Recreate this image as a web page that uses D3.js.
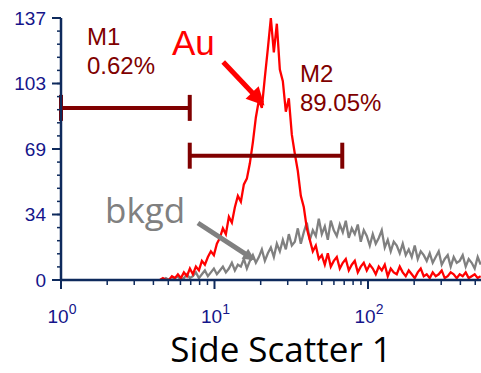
<!DOCTYPE html>
<html>
<head>
<meta charset="utf-8">
<script src="https://cdn.jsdelivr.net/npm/d3@7"></script>
<style>
  body { margin: 0; background: #fff; }
  svg { display: block; }
</style>
</head>
<body>
<div class="chart"></div>
<script>
// histogram channels: 256 channels per decade, every 5th channel from 165
const firstChannel = 165;
const channelStep = 5;

const auCounts = [
  0, 1, 0, 0, 2, 1, 3, 1, 4, 2, 6,
  3, 7, 5, 10, 8, 12, 15, 13, 19, 22,
  27, 24, 33, 30, 38, 44, 41, 50, 53, 61,
  72, 85, 94, 90, 106, 121, 137, 119, 134, 110,
  104, 88, 95, 76, 66, 57, 44, 38, 27, 21,
  15, 18, 11, 13, 8, 14, 7, 10, 12, 6,
  9, 11, 5, 8, 10, 4, 7, 9, 5, 8,
  6, 3, 7, 5, 8, 2, 6, 4, 3, 7,
  4, 2, 5, 3, 1, 4, 6, 2, 3, 1,
  4, 2, 3, 5, 1, 2, 4, 3, 1, 3,
  2, 4, 1, 2, 3, 1, 2
];

const bkgdCounts = [
  0, 0, 1, 0, 0, 1, 2, 0, 1, 3, 1,
  2, 4, 1, 3, 5, 2, 4, 6, 3, 5,
  7, 4, 6, 9, 5, 8, 7, 11, 6, 10,
  13, 9, 12, 16, 10, 14, 17, 12, 19, 15,
  21, 16, 24, 18, 20, 27, 19, 25, 30, 21,
  26, 23, 32, 24, 28, 21, 31, 26, 23, 29,
  25, 31, 22, 27, 24, 29, 20, 26, 23, 18,
  24, 19, 22, 26, 17, 21, 15, 20, 18, 14,
  19, 13, 16, 12, 18, 11, 15, 13, 10, 14,
  9, 12, 15, 8, 11, 13, 7, 12, 9, 10,
  13, 7, 11, 9, 6, 12, 8
];

const markerNames = ["M1", "M2"];
const markerPercents = ["0.62%", "89.05%"];
const markerRanges = [[1, 6.9], [6.9, 68]];
const markerLevels = [90, 65];

const yTickValues = [0, 34.25, 68.5, 102.75, 137];
const yTickLabels = ["0", "34", "69", "103", "137"];
const xDecades = [1, 10, 100];
const xDecadeExps = ["0", "1", "2"];

const width = 481, height = 373;
const axisColor = "#0e2a5c", labelColor = "#15158a", markColor = "#800000";

const svg = d3.select(".chart").append("svg")
  .attr("width", width).attr("height", height);

svg.append("rect").attr("width", width).attr("height", height).attr("fill", "#fff");

const x = d3.scaleLog().domain([1, 545]).range([61, 481]);
const y = d3.scaleLinear().domain([0, 137]).range([280, 18]);

const channelValue = i => Math.pow(10, (firstChannel + i * channelStep) / 256);

const defs = svg.append("defs");
function arrowHead(id, color, w, h) {
  defs.append("marker")
    .attr("id", id)
    .attr("viewBox", "0 0 10 10")
    .attr("refX", 8).attr("refY", 5)
    .attr("markerUnits", "userSpaceOnUse")
    .attr("markerWidth", w).attr("markerHeight", h)
    .attr("orient", "auto")
    .append("path")
    .attr("d", "M0,0 L10,5 L0,10 Z")
    .attr("fill", color);
}
arrowHead("arrowRed", "#ff0000", 20, 18);
arrowHead("arrowGray", "#808080", 14, 12);

defs.append("clipPath").attr("id", "plotClip")
  .append("rect").attr("x", 61).attr("y", 0).attr("width", 420).attr("height", 280);

const line = d3.line()
  .x((d, i) => x(channelValue(i)))
  .y(d => y(d));

const plot = svg.append("g").attr("clip-path", "url(#plotClip)");

plot.append("path")
  .datum(bkgdCounts)
  .attr("fill", "none")
  .attr("stroke", "#808080")
  .attr("stroke-width", 2.3)
  .attr("d", line);

plot.append("path")
  .datum(auCounts)
  .attr("fill", "none")
  .attr("stroke", "#ff0000")
  .attr("stroke-width", 2.3)
  .attr("d", line);

// marker bars
markerRanges.forEach((r, k) => {
  const g = svg.append("g").attr("stroke", markColor).attr("stroke-width", 4);
  const yy = y(markerLevels[k]);
  g.append("line").attr("x1", x(r[0])).attr("x2", x(r[1])).attr("y1", yy).attr("y2", yy);
  r.forEach(v => {
    g.append("line").attr("x1", x(v)).attr("x2", x(v)).attr("y1", yy - 13).attr("y2", yy + 13);
  });
});

// marker labels
const labelPos = [[87, 45], [300, 82]];
markerNames.forEach((n, k) => {
  const t = svg.append("text")
    .attr("x", labelPos[k][0]).attr("y", labelPos[k][1])
    .attr("fill", markColor)
    .style("font-family", "Liberation Sans, Arial, sans-serif")
    .style("font-size", "24px");
  t.append("tspan").text(n);
  t.append("tspan").attr("x", labelPos[k][0]).attr("dy", 29).text(markerPercents[k]);
});

// annotations
svg.append("text").attr("x", 172).attr("y", 55)
  .attr("fill", "#ff0000")
  .style("font-family", "Liberation Sans, Arial, sans-serif")
  .style("font-size", "35px")
  .text("Au");
svg.append("line")
  .attr("x1", x(11.4)).attr("y1", y(114))
  .attr("x2", x(20.4)).attr("y2", y(92.6))
  .attr("stroke", "#ff0000").attr("stroke-width", 5)
  .attr("marker-end", "url(#arrowRed)");

svg.append("text").attr("x", 105).attr("y", 223)
  .attr("fill", "#808080")
  .style("font-family", "Open Sans, sans-serif")
  .style("font-size", "35px")
  .text("bkgd");
svg.append("line")
  .attr("x1", x(7.8)).attr("y1", y(29.8))
  .attr("x2", x(17.8)).attr("y2", y(11))
  .attr("stroke", "#808080").attr("stroke-width", 5)
  .attr("marker-end", "url(#arrowGray)");

// y axis
const yMinor = d3.range(0, 21).map(k => k * 137 / 20);
svg.append("g").selectAll("line").data(yMinor).join("line")
  .attr("x1", 57).attr("x2", 61)
  .attr("y1", d => y(d)).attr("y2", d => y(d))
  .attr("stroke", axisColor).attr("stroke-width", 1.5);
svg.append("g").selectAll("line").data(yTickValues).join("line")
  .attr("x1", 52).attr("x2", 61)
  .attr("y1", d => y(d)).attr("y2", d => y(d))
  .attr("stroke", axisColor).attr("stroke-width", 2);
svg.append("g").selectAll("text").data(yTickValues).join("text")
  .attr("x", 46).attr("y", d => y(d))
  .attr("dy", "0.36em")
  .attr("text-anchor", "end")
  .attr("fill", labelColor)
  .style("font-family", "Liberation Sans, Arial, sans-serif")
  .style("font-size", "19px")
  .text((d, i) => yTickLabels[i]);

// x axis
const xMinor = [];
[1, 10, 100].forEach(b => d3.range(2, 10).forEach(m => { if (b * m < 545) xMinor.push(b * m); }));
svg.append("g").selectAll("line").data(xMinor).join("line")
  .attr("x1", d => x(d)).attr("x2", d => x(d))
  .attr("y1", 280).attr("y2", 285)
  .attr("stroke", axisColor).attr("stroke-width", 1.5);
svg.append("g").selectAll("line").data(xDecades).join("line")
  .attr("x1", d => x(d)).attr("x2", d => x(d))
  .attr("y1", 280).attr("y2", 289)
  .attr("stroke", axisColor).attr("stroke-width", 2);
const xl = svg.append("g").selectAll("text").data(xDecades).join("text")
  .attr("x", d => x(d) + 1).attr("y", 323)
  .attr("text-anchor", "middle")
  .attr("fill", labelColor)
  .style("font-family", "Liberation Sans, Arial, sans-serif")
  .style("font-size", "19px");
xl.append("tspan").text("10");
xl.append("tspan").attr("dy", -9).style("font-size", "14px").text((d, i) => xDecadeExps[i]);

svg.append("line").attr("x1", 61).attr("x2", 61).attr("y1", 18).attr("y2", 281)
  .attr("stroke", axisColor).attr("stroke-width", 2.5);
svg.append("line").attr("x1", 60).attr("x2", 481).attr("y1", 280).attr("y2", 280)
  .attr("stroke", axisColor).attr("stroke-width", 2.5);

svg.append("text").attr("x", 281).attr("y", 362)
  .attr("text-anchor", "middle")
  .attr("fill", "#000")
  .style("font-family", "Open Sans, sans-serif")
  .style("font-size", "35px")
  .text("Side Scatter 1");
</script>
</body>
</html>
